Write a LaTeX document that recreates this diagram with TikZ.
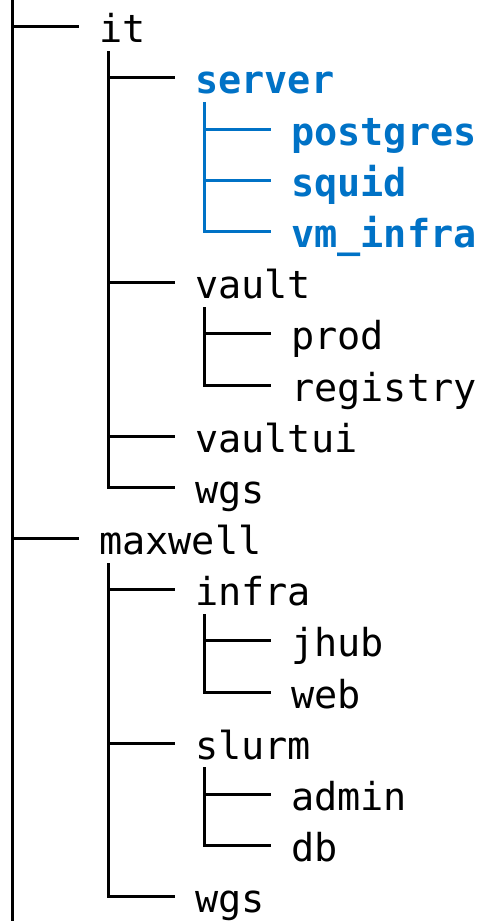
\documentclass[tikz,border=0pt]{standalone}
\usepackage{fontspec}
\setmonofont{DejaVu Sans Mono}
\definecolor{treeblue}{RGB}{0,114,198}
\tikzset{
  branch/.style={line width=3pt, line cap=rect},
  itemtext/.style={anchor=base west, inner sep=0pt, font=\ttfamily\fontsize{38.5}{40}\selectfont},
  hot/.style={text=treeblue, font=\ttfamily\bfseries\fontsize{38.5}{40}\selectfont},
}
\newcommand\titem[6]{%
  \coordinate (#1-j) at (#2,#3);
  \node[itemtext,#5] (#1) at (#2+87,#3+16) {#4};
  \draw[branch,#6] (#1-j) -- ([xshift=-22pt]#1-j -| #1.west);
}
\begin{document}
\begin{tikzpicture}[x=1pt,y=-1pt]
\useasboundingbox (0,0) rectangle (479,921);
\fill[white] (0,0) rectangle (479,921);
% level 1 trunk
\coordinate (top) at (12,0);
\coordinate (bot) at (12,921);
\draw[branch,line cap=butt] (top) -- (bot);
% items
\titem{it}{12}{26.7}{it}{}{}
\titem{server}{108}{77.9}{server}{hot}{}
\titem{postgres}{204}{129.1}{postgres}{hot}{treeblue}
\titem{squid}{204}{180.2}{squid}{hot}{treeblue}
\titem{vminfra}{204}{231.4}{vm\_infra}{hot}{treeblue}
\titem{vault}{108}{282.6}{vault}{}{}
\titem{prod}{204}{333.8}{prod}{}{}
\titem{registry}{204}{385.0}{registry}{}{}
\titem{vaultui}{108}{436.1}{vaultui}{}{}
\titem{wgsa}{108}{487.3}{wgs}{}{}
\titem{maxwell}{12}{538.5}{maxwell}{}{}
\titem{infra}{108}{589.7}{infra}{}{}
\titem{jhub}{204}{640.9}{jhub}{}{}
\titem{web}{204}{692.0}{web}{}{}
\titem{slurm}{108}{743.2}{slurm}{}{}
\titem{admin}{204}{794.4}{admin}{}{}
\titem{db}{204}{845.6}{db}{}{}
\titem{wgsb}{108}{896.8}{wgs}{}{}
% verticals
\coordinate (it-v) at (108,52.3);
\draw[branch] (it-v) -- (wgsa-j);
\coordinate (server-v) at (204,103.5);
\draw[branch,treeblue] (server-v) -- (vminfra-j);
\coordinate (vault-v) at (204,308.2);
\draw[branch] (vault-v) -- (registry-j);
\coordinate (maxwell-v) at (108,564.1);
\draw[branch] (maxwell-v) -- (wgsb-j);
\coordinate (infra-v) at (204,615.3);
\draw[branch] (infra-v) -- (web-j);
\coordinate (slurm-v) at (204,768.8);
\draw[branch] (slurm-v) -- (db-j);
\end{tikzpicture}
\end{document}
